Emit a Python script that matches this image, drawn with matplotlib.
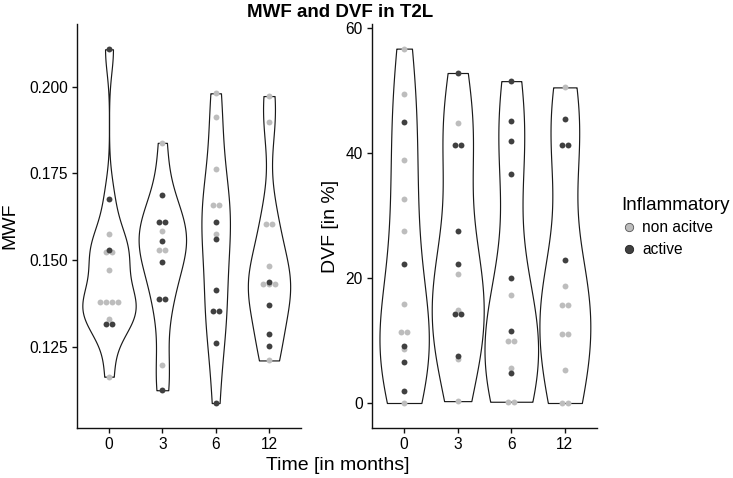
import numpy as np
import matplotlib
matplotlib.use("Agg")
import matplotlib.pyplot as plt
from matplotlib.lines import Line2D
from matplotlib.ticker import FormatStrFormatter

plt.rcParams['font.family'] = ['Liberation Sans', 'DejaVu Sans']

# ---------------- data ----------------
time_labels = ["0", "3", "6", "12"]
status_labels = ["non acitve", "active"]

mwf_active = [
    [0.2108, 0.1677, 0.1529, 0.1316, 0.1316],
    [0.1688, 0.1610, 0.1610, 0.1556, 0.1495, 0.1387, 0.1387, 0.1124],
    [0.1609, 0.1561, 0.1413, 0.1352, 0.1352, 0.1261, 0.1087],
    [0.1436, 0.1370, 0.1287, 0.1252],
]
mwf_nonactive = [
    [0.1576, 0.1522, 0.1522, 0.1472, 0.1380, 0.1380, 0.1380, 0.1380, 0.1330, 0.1163],
    [0.1838, 0.1584, 0.1530, 0.1530, 0.1197],
    [0.1981, 0.1913, 0.1762, 0.1658, 0.1658, 0.1576],
    [0.1973, 0.1898, 0.1605, 0.1605, 0.1483, 0.1431, 0.1431, 0.1431, 0.1210],
]
dvf_active = [
    [44.9, 22.2, 9.2, 6.6, 1.9],
    [52.8, 41.3, 41.3, 27.5, 22.2, 14.3, 14.3, 7.5],
    [51.5, 45.2, 42.0, 36.7, 20.0, 11.5, 4.8],
    [45.5, 41.3, 41.3, 22.9],
]
dvf_nonactive = [
    [56.7, 49.4, 38.9, 32.7, 27.6, 15.8, 11.3, 11.3, 8.7, 0.0],
    [44.8, 20.6, 14.9, 7.1, 0.3],
    [17.3, 9.9, 9.9, 5.6, 0.2, 0.2],
    [50.5, 18.7, 15.7, 15.7, 11.1, 11.1, 5.3, 0.0, 0.0],
]

LIGHT = "#bdbdbd"
DARK = "#404040"
LINE = "#1a1a1a"

W, H = 733, 478


def nrd0(x):
    x = np.asarray(x, float)
    n = len(x)
    hi = np.std(x, ddof=1)
    iqr = np.subtract(*np.percentile(x, [75, 25]))
    lo = min(hi, iqr / 1.34)
    if lo <= 0:
        lo = hi if hi > 0 else 1.0
    return 0.9 * lo * n ** (-0.2)


def density(x):
    x = np.asarray(x, float)
    bw = nrd0(x)
    grid = np.linspace(x.min(), x.max(), 512)
    d = np.exp(-0.5 * ((grid[:, None] - x[None, :]) / bw) ** 2).sum(axis=1)
    d /= (len(x) * bw * np.sqrt(2 * np.pi))
    return grid, d


def stack_offsets(vals, step):
    vals = np.asarray(vals, float)
    offs = np.zeros(len(vals))
    for u in np.unique(vals):
        idx = np.where(vals == u)[0]
        k = len(idx)
        offs[idx] = (np.arange(k) - (k - 1) / 2) * step
    return offs


def panel(ax, active, nonactive, ylim):
    groups = [np.array(a + b) for a, b in zip(active, nonactive)]
    dens = [density(g) for g in groups]
    dmax = max(d.max() for _, d in dens)
    for i, (grid, d) in enumerate(dens):
        hw = 0.5 * d / dmax
        ax.fill_betweenx(grid, i - hw, i + hw, facecolor="white",
                         edgecolor=LINE, linewidth=0.85, zorder=2)
    step = 0.109
    for i in range(len(groups)):
        nv = np.asarray(nonactive[i])
        av = np.asarray(active[i])
        ax.scatter(i + stack_offsets(nv, step), nv, s=18, color=LIGHT,
                   linewidths=0, zorder=3)
        ax.scatter(i + stack_offsets(av, step), av, s=18, color=DARK,
                   linewidths=0, zorder=4)
    ax.set_xlim(-0.6, len(groups) - 0.4)
    ax.set_ylim(*ylim)
    ax.set_xticks(range(len(groups)))
    ax.set_xticklabels(time_labels)
    for s in ["top", "right"]:
        ax.spines[s].set_visible(False)
    for s in ["left", "bottom"]:
        ax.spines[s].set_linewidth(1.0)
        ax.spines[s].set_color("#111111")
    ax.tick_params(axis="both", length=3.5, width=1.0, color="#111111",
                   labelsize=11.2, labelcolor="black", pad=3)


fig = plt.figure(figsize=(W / 100, H / 100), dpi=100)
ax1 = fig.add_axes([77 / W, 1 - 428 / H, 224 / W, 404 / H])
ax2 = fig.add_axes([372 / W, 1 - 428 / H, 225 / W, 404 / H])

panel(ax1, mwf_active, mwf_nonactive, (0.1015, 0.2181))
panel(ax2, dvf_active, dvf_nonactive, (-4.0, 60.64))

ax1.set_yticks([0.125, 0.150, 0.175, 0.200])
ax1.yaxis.set_major_formatter(FormatStrFormatter("%.3f"))
ax2.set_yticks([0, 20, 40, 60])

ax1.set_ylabel("MWF", fontsize=14, labelpad=8)
ax2.set_ylabel("DVF [in %]", fontsize=14, labelpad=5)

fig.text(340 / W, 1 - 17 / H, "MWF and DVF in T2L", ha="center",
         va="baseline", fontsize=13.5, fontweight="bold")
fig.text(338 / W, 1 - 466 / H, "Time [in months]", ha="center",
         va="center", fontsize=14)

handles = [
    Line2D([], [], linestyle="none", marker="o", markersize=6,
           markerfacecolor=LIGHT, markeredgecolor="#555555", markeredgewidth=0.6),
    Line2D([], [], linestyle="none", marker="o", markersize=6,
           markerfacecolor=DARK, markeredgecolor="#222222", markeredgewidth=0.6),
]
leg = fig.legend(handles, status_labels, title="Inflammatory",
                 loc="center left", bbox_to_anchor=(621 / W, 1 - 227 / H),
                 frameon=False, fontsize=11.2, title_fontsize=13.5,
                 handletextpad=0.35, handlelength=1.0, labelspacing=0.45,
                 borderaxespad=0, borderpad=0)
leg._legend_box.align = "left"

fig.savefig("out.png", dpi=100)
